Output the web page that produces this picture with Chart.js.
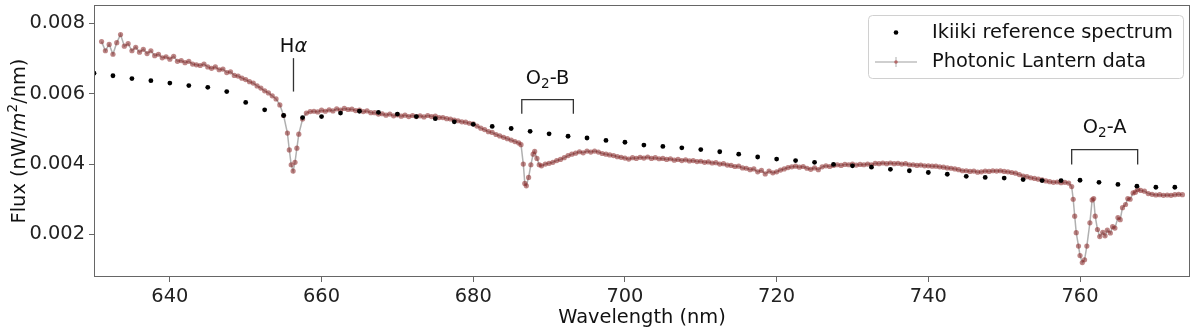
<!DOCTYPE html>
<html>
<head>
<meta charset="utf-8">
<script src="https://cdn.jsdelivr.net/npm/chart.js@4.4.1/dist/chart.umd.min.js"></script>
<style>
  html, body { margin: 0; padding: 0; background: #fff; }
  #wrap { width: 1200px; height: 332px; }
</style>
</head>
<body>
<div id="wrap"><canvas id="spectrumChart" width="1200" height="332"></canvas></div>
<script>
// Ikiiki reference spectrum (black dots), nm / nW m^-2 nm^-1
const refWave = [
    630, 632.5, 635, 637.5, 640, 642.5, 645, 647.5, 650, 652.5,
    655, 657.5, 660, 662.5, 665, 667.5, 670, 672.5, 675, 677.5,
    680, 682.5, 685, 687.5, 690, 692.5, 695, 697.5, 700, 702.5,
    705, 707.5, 710, 712.5, 715, 717.5, 720, 722.5, 725, 727.5,
    730, 732.5, 735, 737.5, 740, 742.5, 745, 747.5, 750, 752.5,
    755, 757.5, 760, 762.5, 765, 767.5, 770, 772.5, 775
];
const refFlux = [
    0.00658, 0.00651, 0.00643, 0.00637, 0.00630, 0.00623, 0.00618, 0.00606, 0.00575, 0.00554,
    0.00538, 0.00532, 0.00535, 0.00545, 0.00550, 0.00547, 0.00542, 0.00535, 0.00529, 0.00520,
    0.00513, 0.00507, 0.00501, 0.00493, 0.00486, 0.00479, 0.00474, 0.00467, 0.00462, 0.00454,
    0.00450, 0.00446, 0.00441, 0.00435, 0.00428, 0.00420, 0.00414, 0.00410, 0.00405, 0.00399,
    0.00395, 0.00391, 0.00385, 0.00381, 0.00376, 0.00371, 0.00365, 0.00362, 0.00360, 0.00356,
    0.00353, 0.00353, 0.00354, 0.00348, 0.00342, 0.00337, 0.00334, 0.00334, 0.00328
];

// Photonic Lantern data
const lanternWave = [
    631, 631.5, 632, 632.5, 633, 633.5, 634, 634.5, 635, 635.5,
    636, 636.5, 637, 637.5, 638, 638.5, 639, 639.5, 640, 640.5,
    641, 641.5, 642, 642.5, 643, 643.5, 644, 644.5, 645, 645.5,
    646, 646.5, 647, 647.5, 648, 648.5, 649, 649.5, 650, 650.5,
    651, 651.5, 652, 652.5, 653, 653.5, 654, 654.5, 655, 655.5,
    655.75, 656, 656.25, 656.5, 656.75, 657, 657.5, 658, 658.5, 659,
    659.5, 660, 660.5, 661, 661.5, 662, 662.5, 663, 663.5, 664,
    664.5, 665, 665.5, 666, 666.5, 667, 667.5, 668, 668.5, 669,
    669.5, 670, 670.5, 671, 671.5, 672, 672.5, 673, 673.5, 674,
    674.5, 675, 675.5, 676, 676.5, 677, 677.5, 678, 678.5, 679,
    679.5, 680, 680.5, 681, 681.5, 682, 682.5, 683, 683.5, 684,
    684.5, 685, 685.5, 686, 686.3, 686.6, 686.8, 687, 687.3, 687.6,
    687.9, 688.1, 688.4, 688.7, 689, 689.5, 690, 690.5, 691, 691.5,
    692, 692.5, 693, 693.5, 694, 694.5, 695, 695.5, 696, 696.5,
    697, 697.5, 698, 698.5, 699, 699.5, 700, 700.5, 701, 701.5,
    702, 702.5, 703, 703.5, 704, 704.5, 705, 705.5, 706, 706.5,
    707, 707.5, 708, 708.5, 709, 709.5, 710, 710.5, 711, 711.5,
    712, 712.5, 713, 713.5, 714, 714.5, 715, 715.5, 716, 716.5,
    717, 717.5, 718, 718.5, 719, 719.5, 720, 720.5, 721, 721.5,
    722, 722.5, 723, 723.5, 724, 724.5, 725, 725.5, 726, 726.5,
    727, 727.5, 728, 728.5, 729, 729.5, 730, 730.5, 731, 731.5,
    732, 732.5, 733, 733.5, 734, 734.5, 735, 735.5, 736, 736.5,
    737, 737.5, 738, 738.5, 739, 739.5, 740, 740.5, 741, 741.5,
    742, 742.5, 743, 743.5, 744, 744.5, 745, 745.5, 746, 746.5,
    747, 747.5, 748, 748.5, 749, 749.5, 750, 750.5, 751, 751.5,
    752, 752.5, 753, 753.5, 754, 754.5, 755, 755.5, 756, 756.5,
    757, 757.5, 758, 758.5, 758.9, 759.1, 759.3, 759.5, 759.8, 760,
    760.3, 760.6, 760.9, 761.3, 761.6, 761.8, 762, 762.3, 762.6, 763,
    763.3, 763.6, 764, 764.3, 764.6, 765, 765.3, 765.6, 766, 766.3,
    766.6, 767, 767.3, 767.6, 768, 768.5, 769, 769.5, 770, 770.5,
    771, 771.5, 772, 772.5, 773, 773.5
];
const lanternFlux = [
    0.00748, 0.00722, 0.00740, 0.00712, 0.00745, 0.00768, 0.00735, 0.00742, 0.00722, 0.00732,
    0.00718, 0.00726, 0.00714, 0.00722, 0.00708, 0.00712, 0.00702, 0.00705, 0.00698, 0.00706,
    0.00692, 0.00694, 0.00688, 0.00692, 0.00684, 0.00682, 0.00680, 0.00684, 0.00676, 0.00672,
    0.00676, 0.00668, 0.00670, 0.00660, 0.00662, 0.00652, 0.00650, 0.00644, 0.00640, 0.00634,
    0.00630, 0.00622, 0.00616, 0.00608, 0.00602, 0.00594, 0.00585, 0.00568, 0.00538, 0.00488,
    0.00440, 0.00398, 0.00380, 0.00405, 0.00445, 0.00485, 0.00528, 0.00545, 0.00549, 0.00550,
    0.00548, 0.00553, 0.00550, 0.00554, 0.00551, 0.00557, 0.00553, 0.00558, 0.00555, 0.00556,
    0.00552, 0.00553, 0.00549, 0.00551, 0.00546, 0.00546, 0.00542, 0.00543, 0.00539, 0.00542,
    0.00537, 0.00540, 0.00536, 0.00539, 0.00535, 0.00538, 0.00535, 0.00537, 0.00534, 0.00538,
    0.00535, 0.00536, 0.00532, 0.00532, 0.00529, 0.00528, 0.00525, 0.00523, 0.00520, 0.00519,
    0.00516, 0.00514, 0.00508, 0.00502, 0.00498, 0.00492, 0.00490, 0.00484, 0.00480, 0.00476,
    0.00472, 0.00468, 0.00464, 0.00460, 0.00455, 0.00400, 0.00345, 0.00338, 0.00362, 0.00398,
    0.00428, 0.00436, 0.00416, 0.00398, 0.00395, 0.00400, 0.00402, 0.00405, 0.00410, 0.00413,
    0.00418, 0.00424, 0.00428, 0.00431, 0.00435, 0.00432, 0.00437, 0.00434, 0.00437, 0.00434,
    0.00430, 0.00428, 0.00426, 0.00424, 0.00421, 0.00419, 0.00417, 0.00414, 0.00418, 0.00416,
    0.00419, 0.00417, 0.00420, 0.00416, 0.00418, 0.00415, 0.00416, 0.00413, 0.00415, 0.00411,
    0.00413, 0.00410, 0.00412, 0.00409, 0.00410, 0.00407, 0.00408, 0.00405, 0.00406, 0.00403,
    0.00404, 0.00400, 0.00401, 0.00397, 0.00396, 0.00393, 0.00394, 0.00389, 0.00388, 0.00384,
    0.00386, 0.00378, 0.00382, 0.00372, 0.00380, 0.00375, 0.00378, 0.00383, 0.00386, 0.00390,
    0.00392, 0.00394, 0.00391, 0.00393, 0.00388, 0.00385, 0.00389, 0.00384, 0.00392, 0.00395,
    0.00393, 0.00396, 0.00398, 0.00396, 0.00399, 0.00398, 0.00400, 0.00397, 0.00399, 0.00398,
    0.00400, 0.00398, 0.00402, 0.00401, 0.00403, 0.00401, 0.00403, 0.00401, 0.00402, 0.00400,
    0.00401, 0.00398, 0.00398, 0.00396, 0.00397, 0.00395, 0.00395, 0.00394, 0.00394, 0.00392,
    0.00391, 0.00389, 0.00388, 0.00386, 0.00384, 0.00381, 0.00381, 0.00379, 0.00380, 0.00377,
    0.00378, 0.00380, 0.00379, 0.00381, 0.00380, 0.00381, 0.00379, 0.00378, 0.00376, 0.00374,
    0.00370, 0.00366, 0.00364, 0.00361, 0.00359, 0.00357, 0.00355, 0.00352, 0.00350, 0.00348,
    0.00349, 0.00347, 0.00348, 0.00346, 0.00336, 0.00300, 0.00252, 0.00205, 0.00167, 0.00140,
    0.00120, 0.00128, 0.00167, 0.00233, 0.00298, 0.00302, 0.00252, 0.00214, 0.00194, 0.00206,
    0.00196, 0.00212, 0.00204, 0.00222, 0.00218, 0.00248, 0.00242, 0.00276, 0.00285, 0.00302,
    0.00300, 0.00318, 0.00320, 0.00328, 0.00325, 0.00323, 0.00316, 0.00314, 0.00312, 0.00313,
    0.00311, 0.00312, 0.00311, 0.00313, 0.00314, 0.00313
];

const xTicks = [640, 660, 680, 700, 720, 740, 760];
const yTicks = [0.002, 0.004, 0.006, 0.008];
const legendLabels = ['Ikiiki reference spectrum', 'Photonic Lantern data'];

// line labels: [wavelength from, wavelength to], label text y, marker top / bottom (flux units)
const lineLabels = [
    { parts: [['H', ''], ['α', 'italic']], wave: [656.3, 656.3], textY: 0.00719, markTop: 0.00701, markBottom: 0.00606 },
    { parts: [['O', ''], ['2', 'sub'], ['-B', '']], wave: [686.4, 693.2], textY: 0.00628, markTop: 0.00583, markBottom: 0.00543 },
    { parts: [['O', ''], ['2', 'sub'], ['-A', '']], wave: [758.9, 767.6], textY: 0.00489, markTop: 0.00441, markBottom: 0.00399 }
];

const FONT = '"DejaVu Sans", "Liberation Sans", sans-serif';
const FS = 19.4;

function fontFor(style) {
    if (style === 'italic') return 'italic ' + FS + 'px ' + FONT;
    if (style === 'sub' || style === 'sup') return (FS * 0.7).toFixed(1) + 'px ' + FONT;
    return FS + 'px ' + FONT;
}

// draws mixed text pieces centred on cx along the current x direction
function drawParts(ctx, parts, cx, baseY) {
    let total = 0;
    parts.forEach(p => {
        ctx.font = fontFor(p[1]);
        total += ctx.measureText(p[0]).width;
    });
    let x = cx - total / 2;
    ctx.textAlign = 'left';
    ctx.textBaseline = 'alphabetic';
    parts.forEach(p => {
        ctx.font = fontFor(p[1]);
        let dy = 0;
        if (p[1] === 'sub') dy = 4;
        if (p[1] === 'sup') dy = -8;
        ctx.fillText(p[0], x, baseY + dy);
        x += ctx.measureText(p[0]).width;
    });
}

const spectrumDecor = {
    id: 'spectrumDecor',
    afterDraw(chart) {
        const ctx = chart.ctx;
        const area = chart.chartArea;
        const xs = chart.scales.x;
        const ys = chart.scales.y;
        ctx.save();

        // frame all four sides
        ctx.strokeStyle = '#666';
        ctx.lineWidth = 1;
        ctx.strokeRect(area.left + 0.5, area.top + 0.5, area.right - area.left - 1, area.bottom - area.top - 1);

        // line markers
        ctx.fillStyle = '#111';
        ctx.strokeStyle = '#333';
        ctx.lineWidth = 1.3;
        lineLabels.forEach(lbl => {
            const x1 = xs.getPixelForValue(lbl.wave[0]);
            const x2 = xs.getPixelForValue(lbl.wave[1]);
            const yt = ys.getPixelForValue(lbl.markTop);
            const yb = ys.getPixelForValue(lbl.markBottom);
            ctx.beginPath();
            if (x1 === x2) {
                ctx.moveTo(x1, yt);
                ctx.lineTo(x1, yb);
            } else {
                ctx.moveTo(x1, yb);
                ctx.lineTo(x1, yt);
                ctx.lineTo(x2, yt);
                ctx.lineTo(x2, yb);
            }
            ctx.stroke();
            drawParts(ctx, lbl.parts, (x1 + x2) / 2, ys.getPixelForValue(lbl.textY));
        });

        // legend box
        const boxW = 315, boxH = 63;
        const bx = area.right - 7 - boxW;
        const by = area.top + 10;
        ctx.beginPath();
        ctx.roundRect(bx + 0.5, by + 0.5, boxW, boxH, 4);
        ctx.fillStyle = 'rgba(255,255,255,0.8)';
        ctx.fill();
        ctx.strokeStyle = '#d0d0d0';
        ctx.lineWidth = 1;
        ctx.stroke();

        const row1 = by + 17.5, row2 = by + 47;
        const mx = bx + 28;
        ctx.fillStyle = '#000';
        ctx.beginPath();
        ctx.arc(mx, row1, 2.3, 0, Math.PI * 2);
        ctx.fill();

        ctx.strokeStyle = 'rgba(150,150,150,0.6)';
        ctx.lineWidth = 1.3;
        ctx.beginPath();
        ctx.moveTo(bx + 7, row2);
        ctx.lineTo(bx + 49, row2);
        ctx.moveTo(mx, row2 - 5);
        ctx.lineTo(mx, row2 + 5);
        ctx.stroke();
        ctx.fillStyle = 'rgba(165,42,42,0.6)';
        ctx.beginPath();
        ctx.arc(mx, row2, 1.8, 0, Math.PI * 2);
        ctx.fill();

        ctx.fillStyle = '#111';
        ctx.font = FS + 'px ' + FONT;
        ctx.textAlign = 'left';
        ctx.textBaseline = 'middle';
        ctx.fillText(legendLabels[0], bx + 64, row1);
        ctx.fillText(legendLabels[1], bx + 64, row2);

        // axis titles
        ctx.textAlign = 'center';
        ctx.fillText('Wavelength (nm)', (area.left + area.right) / 2, 318);

        ctx.translate(18, (area.top + area.bottom) / 2);
        ctx.rotate(-Math.PI / 2);
        drawParts(ctx, [['Flux (nW/', ''], ['m', 'italic'], ['2', 'sup'], ['/nm)', '']], 0, 7);

        ctx.restore();
    }
};

const ctx = document.getElementById('spectrumChart').getContext('2d');

new Chart(ctx, {
    type: 'scatter',
    data: {
        datasets: [
            {
                label: legendLabels[0],
                data: refWave.map((w, i) => ({ x: w, y: refFlux[i] })),
                pointRadius: 2.4,
                pointBackgroundColor: '#000',
                pointBorderWidth: 0,
                showLine: false
            },
            {
                label: legendLabels[1],
                data: lanternWave.map((w, i) => ({ x: w, y: lanternFlux[i] })),
                showLine: true,
                borderColor: 'rgba(150,150,150,0.75)',
                borderWidth: 1.5,
                pointRadius: 2.6,
                pointBackgroundColor: 'rgba(135,35,35,0.55)',
                pointBorderWidth: 0,
                tension: 0
            }
        ]
    },
    options: {
        responsive: false,
        devicePixelRatio: 1,
        animation: false,
        layout: {
            padding: { left: 0, right: 10, top: 5, bottom: 0 }
        },
        plugins: {
            legend: { display: false },
            tooltip: { enabled: false }
        },
        scales: {
            x: {
                type: 'linear',
                min: 630,
                max: 774.5,
                afterBuildTicks: scale => { scale.ticks = xTicks.map(v => ({ value: v })); },
                afterFit: scale => {
                    scale.height = 55;
                    scale.paddingLeft = 0;
                    scale.paddingRight = 0;
                },
                grid: { drawOnChartArea: false, drawTicks: true, tickLength: 5, color: '#666' },
                border: { display: false },
                ticks: {
                    color: '#222',
                    padding: 3,
                    maxRotation: 0,
                    font: { family: FONT, size: FS },
                    callback: v => String(v)
                }
            },
            y: {
                type: 'linear',
                min: 0.00079,
                max: 0.00852,
                afterBuildTicks: scale => { scale.ticks = yTicks.map(v => ({ value: v })); },
                afterFit: scale => {
                    scale.width = 94;
                    scale.paddingTop = 0;
                    scale.paddingBottom = 0;
                },
                grid: { drawOnChartArea: false, drawTicks: true, tickLength: 5, color: '#666' },
                border: { display: false },
                ticks: {
                    color: '#222',
                    padding: 4,
                    font: { family: FONT, size: FS },
                    callback: v => Number(v).toFixed(3)
                }
            }
        }
    },
    plugins: [spectrumDecor]
});
</script>
</body>
</html>
